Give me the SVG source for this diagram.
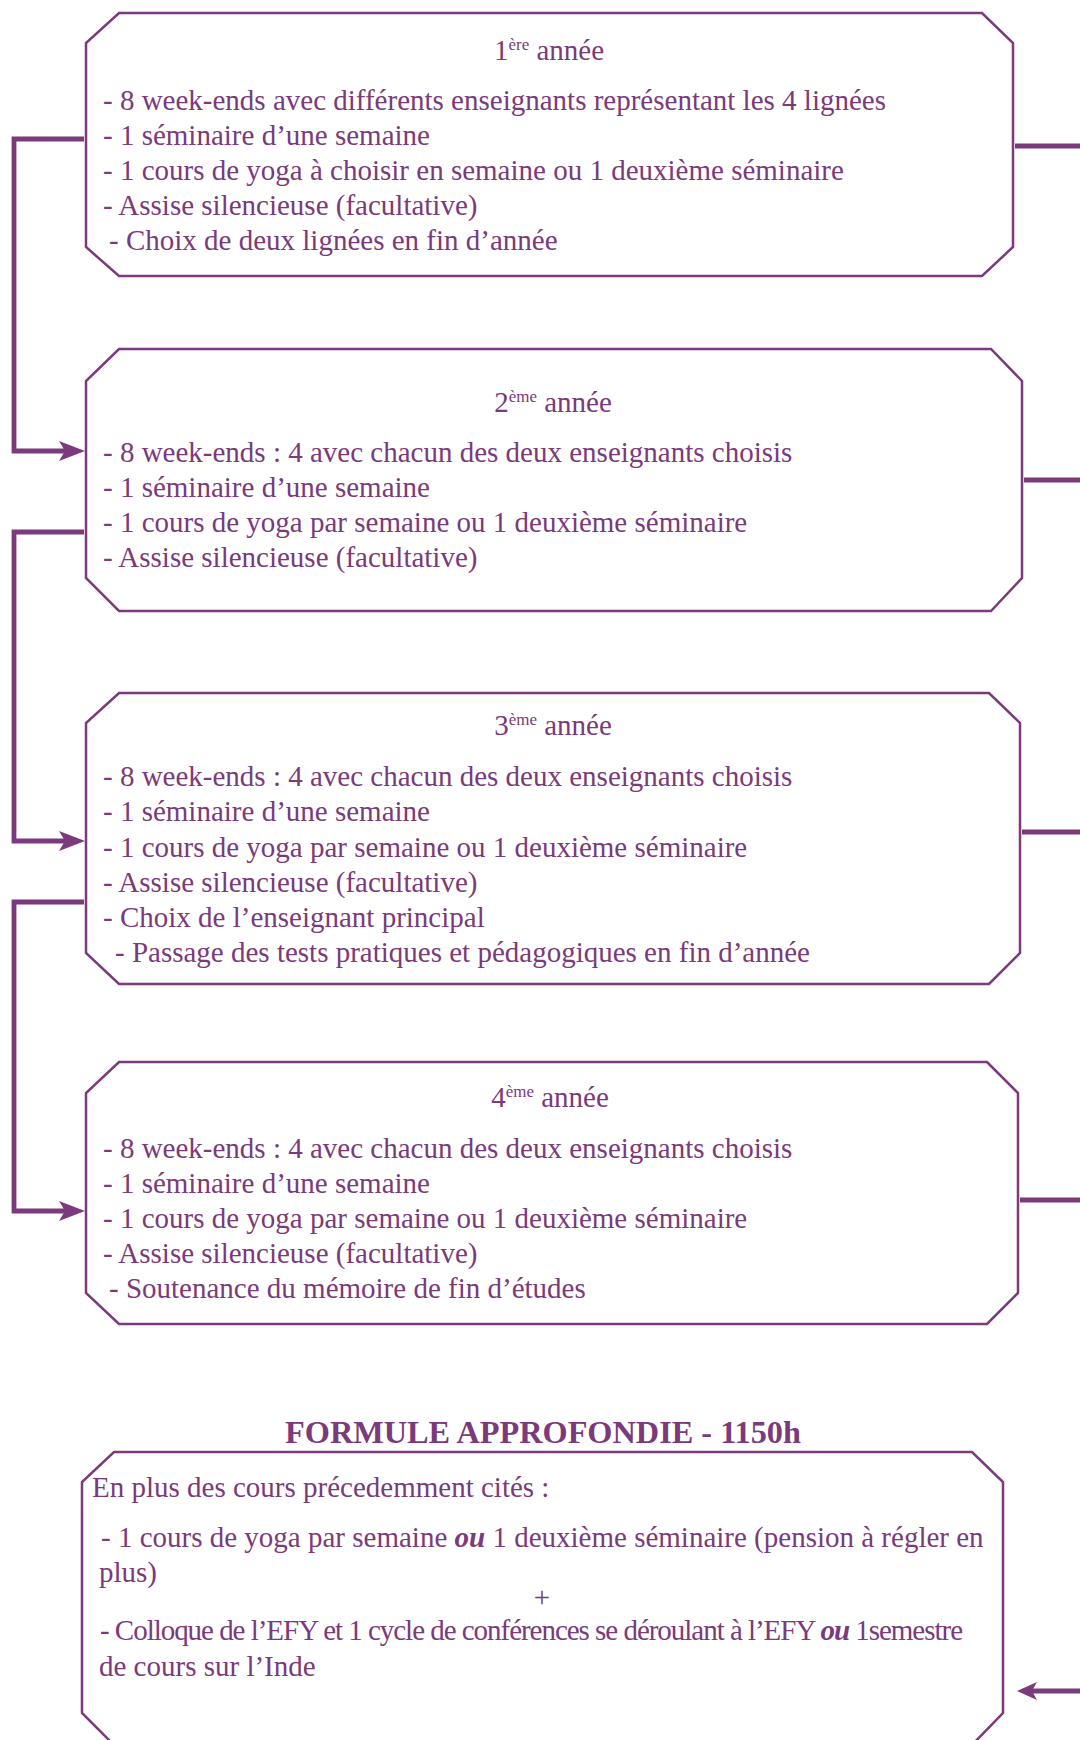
<svg xmlns="http://www.w3.org/2000/svg" width="1080" height="1740" viewBox="0 0 1080 1740">
<style>
.box{fill:#fff;stroke:#7a3a7b;stroke-width:2.5}
.t{font-family:"Liberation Serif","Times New Roman",serif;font-size:29px;fill:#7a3a7b}
.h{font-family:"Liberation Serif","Times New Roman",serif;font-size:29px;fill:#7a3a7b;text-anchor:middle}
.sup{font-size:17px}
.title{font-family:"Liberation Serif","Times New Roman",serif;font-size:32.3px;font-weight:bold;fill:#7a3a7b;text-anchor:middle}
.c{fill:none;stroke:#7a3a7b;stroke-width:4.8}
.bi{font-weight:bold;font-style:italic}
</style>
<defs>
<marker id="arr" viewBox="0 0 26 20" refX="6" refY="10" markerWidth="26" markerHeight="20" markerUnits="userSpaceOnUse" orient="auto">
<path d="M0,0 L26,10 L0,20 L6,10 Z" fill="#7a3a7b"/>
</marker>
<marker id="arrS" viewBox="0 0 20 18" refX="5" refY="9" markerWidth="20" markerHeight="18" markerUnits="userSpaceOnUse" orient="auto">
<path d="M0,0 L20,9 L0,18 L5,9 Z" fill="#7a3a7b"/>
</marker>
</defs>
<rect width="1080" height="1740" fill="#fff"/>
<g id="connectors">
<path class="c" d="M84,139 H14 V451 H65" marker-end="url(#arr)"/>
<path class="c" d="M84,532 H14 V841 H65" marker-end="url(#arr)"/>
<path class="c" d="M84,902 H14 V1211 H65" marker-end="url(#arr)"/>
<path class="c" d="M1015,146 H1080"/>
<path class="c" d="M1024,480 H1080"/>
<path class="c" d="M1022,832 H1080"/>
<path class="c" d="M1020,1200 H1080"/>
<path class="c" d="M1080,1691 H1032" marker-end="url(#arrS)"/>
</g>
<g id="annee1">
<polygon class="box" points="119,13 982,13 1013,43 1013,247 982,276 119,276 86,247 86,43"/>
<text class="h" x="549" y="60">1<tspan class="sup" dy="-10">ère</tspan><tspan dy="10"> année</tspan></text>
<text class="t" x="103" y="110">- 8 week-ends avec différents enseignants représentant les 4 lignées</text>
<text class="t" x="103" y="145">- 1 séminaire d’une semaine</text>
<text class="t" x="103" y="180">- 1 cours de yoga à choisir en semaine ou 1 deuxième séminaire</text>
<text class="t" x="103" y="215">- Assise silencieuse (facultative)</text>
<text class="t" x="109" y="250">- Choix de deux lignées en fin d’année</text>
</g>
<g id="annee2">
<polygon class="box" points="119,349 991,349 1022,381 1022,578 991,611 119,611 86,578 86,381"/>
<text class="h" x="553" y="412">2<tspan class="sup" dy="-10">ème</tspan><tspan dy="10"> année</tspan></text>
<text class="t" x="103" y="462">- 8 week-ends : 4 avec chacun des deux enseignants choisis</text>
<text class="t" x="103" y="497">- 1 séminaire d’une semaine</text>
<text class="t" x="103" y="532">- 1 cours de yoga par semaine ou 1 deuxième séminaire</text>
<text class="t" x="103" y="567">- Assise silencieuse (facultative)</text>
</g>
<g id="annee3">
<polygon class="box" points="119,693 989,693 1020,723 1020,953 989,984 119,984 86,953 86,723"/>
<text class="h" x="553" y="735">3<tspan class="sup" dy="-10">ème</tspan><tspan dy="10"> année</tspan></text>
<text class="t" x="103" y="786">- 8 week-ends : 4 avec chacun des deux enseignants choisis</text>
<text class="t" x="103" y="821">- 1 séminaire d’une semaine</text>
<text class="t" x="103" y="857">- 1 cours de yoga par semaine ou 1 deuxième séminaire</text>
<text class="t" x="103" y="892">- Assise silencieuse (facultative)</text>
<text class="t" x="103" y="927">- Choix de l’enseignant principal</text>
<text class="t" x="115" y="962">- Passage des tests pratiques et pédagogiques en fin d’année</text>
</g>
<g id="annee4">
<polygon class="box" points="119,1062 987,1062 1018,1093 1018,1293 987,1324 119,1324 86,1293 86,1093"/>
<text class="h" x="550" y="1107">4<tspan class="sup" dy="-10">ème</tspan><tspan dy="10"> année</tspan></text>
<text class="t" x="103" y="1158">- 8 week-ends : 4 avec chacun des deux enseignants choisis</text>
<text class="t" x="103" y="1193">- 1 séminaire d’une semaine</text>
<text class="t" x="103" y="1228">- 1 cours de yoga par semaine ou 1 deuxième séminaire</text>
<text class="t" x="103" y="1263">- Assise silencieuse (facultative)</text>
<text class="t" x="109" y="1298">- Soutenance du mémoire de fin d’études</text>
</g>
<g id="formule">
<text class="title" x="543" y="1443">FORMULE APPROFONDIE - 1150h</text>
<polygon class="box" points="114,1452 972,1452 1003,1482 1003,1713 969,1748 117,1748 82,1713 82,1482"/>
<text class="t" x="92" y="1497">En plus des cours précedemment cités :</text>
<text class="t" x="101" y="1547">- 1 cours de yoga par semaine <tspan class="bi">ou</tspan> 1 deuxième séminaire (pension à régler en</text>
<text class="t" x="99" y="1582">plus)</text>
<text class="h" x="542" y="1607">+</text>
<text class="t" x="100" y="1640" textLength="863" lengthAdjust="spacing">- Colloque de l’EFY et 1 cycle de conférences se déroulant à l’EFY <tspan class="bi">ou</tspan> 1semestre</text>
<text class="t" x="99" y="1676">de cours sur l’Inde</text>
</g>
</svg>
